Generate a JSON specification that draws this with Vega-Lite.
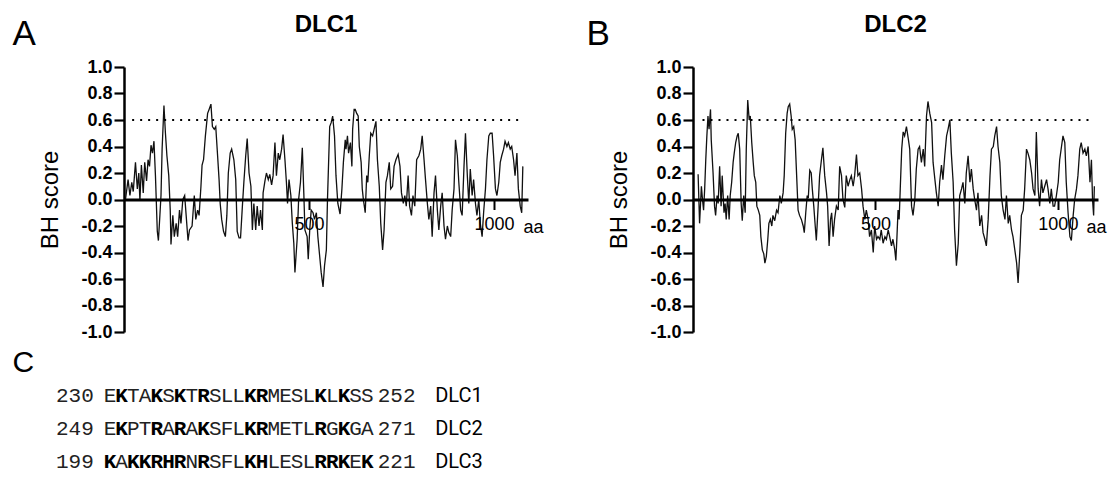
{
  "$schema": "https://vega.github.io/schema/vega-lite/v6.json",
  "background": "white",
  "padding": {"left": 12, "top": 13, "right": 5, "bottom": 5},
  "bounds": "flush",
  "columns": 2,
  "align": "each",
  "spacing": {"row": 14.5, "column": 165},
  "config": {
    "view": {"stroke": null},
    "font": "Liberation Sans",
    "axis": {"grid": false, "domainColor": "black", "tickColor": "black", "labelColor": "black", "titleColor": "black", "labelFlush": false, "labelOverlap": false}
  },
  "datasets": {
    "dlc1": [
      {"aa":4,"score":0.00},{"aa":11,"score":0.15},{"aa":16,"score":0.03},{"aa":21,"score":0.13},{"aa":25,"score":0.06},{"aa":31,"score":0.28},{"aa":36,"score":0.08},{"aa":40,"score":0.20},{"aa":43,"score":-0.01},{"aa":47,"score":0.26},{"aa":52,"score":0.05},{"aa":56,"score":0.28},{"aa":61,"score":0.14},{"aa":65,"score":0.30},{"aa":69,"score":0.25},{"aa":73,"score":0.41},{"aa":77,"score":0.35},{"aa":81,"score":0.44},{"aa":85,"score":0.18},{"aa":90,"score":-0.24},{"aa":93,"score":-0.31},{"aa":97,"score":-0.12},{"aa":100,"score":0.03},{"aa":103,"score":0.38},{"aa":108,"score":0.71},{"aa":112,"score":0.50},{"aa":116,"score":0.33},{"aa":121,"score":0.18},{"aa":125,"score":-0.08},{"aa":127,"score":-0.34},{"aa":132,"score":-0.12},{"aa":136,"score":-0.28},{"aa":141,"score":-0.18},{"aa":145,"score":-0.28},{"aa":150,"score":-0.08},{"aa":154,"score":-0.18},{"aa":159,"score":0.00},{"aa":164,"score":0.03},{"aa":168,"score":-0.12},{"aa":173,"score":-0.31},{"aa":177,"score":-0.23},{"aa":184,"score":-0.20},{"aa":190,"score":0.03},{"aa":194,"score":-0.15},{"aa":199,"score":-0.08},{"aa":203,"score":-0.12},{"aa":208,"score":0.10},{"aa":211,"score":0.26},{"aa":215,"score":0.30},{"aa":220,"score":0.48},{"aa":226,"score":0.65},{"aa":230,"score":0.68},{"aa":235,"score":0.72},{"aa":239,"score":0.55},{"aa":244,"score":0.53},{"aa":248,"score":0.55},{"aa":253,"score":0.33},{"aa":257,"score":0.15},{"aa":260,"score":-0.03},{"aa":264,"score":-0.15},{"aa":269,"score":-0.24},{"aa":274,"score":-0.28},{"aa":278,"score":-0.12},{"aa":282,"score":0.20},{"aa":287,"score":0.35},{"aa":291,"score":0.38},{"aa":297,"score":0.30},{"aa":302,"score":0.15},{"aa":306,"score":-0.24},{"aa":311,"score":-0.29},{"aa":315,"score":-0.29},{"aa":320,"score":-0.05},{"aa":324,"score":0.13},{"aa":329,"score":0.33},{"aa":333,"score":0.46},{"aa":338,"score":0.20},{"aa":343,"score":0.10},{"aa":347,"score":-0.23},{"aa":351,"score":-0.03},{"aa":356,"score":-0.23},{"aa":360,"score":-0.05},{"aa":365,"score":-0.20},{"aa":369,"score":-0.08},{"aa":374,"score":-0.23},{"aa":376,"score":0.05},{"aa":381,"score":0.14},{"aa":385,"score":0.20},{"aa":390,"score":0.15},{"aa":394,"score":0.19},{"aa":399,"score":0.11},{"aa":403,"score":0.18},{"aa":408,"score":0.43},{"aa":412,"score":0.18},{"aa":417,"score":0.35},{"aa":421,"score":0.30},{"aa":426,"score":0.38},{"aa":430,"score":0.49},{"aa":435,"score":0.30},{"aa":439,"score":0.13},{"aa":442,"score":-0.03},{"aa":446,"score":0.15},{"aa":451,"score":0.03},{"aa":455,"score":-0.18},{"aa":459,"score":-0.33},{"aa":462,"score":-0.55},{"aa":468,"score":-0.30},{"aa":472,"score":0.00},{"aa":477,"score":0.13},{"aa":482,"score":0.39},{"aa":486,"score":0.05},{"aa":489,"score":-0.23},{"aa":495,"score":-0.28},{"aa":498,"score":-0.45},{"aa":502,"score":-0.23},{"aa":506,"score":-0.08},{"aa":511,"score":-0.10},{"aa":515,"score":-0.15},{"aa":520,"score":-0.10},{"aa":524,"score":-0.28},{"aa":529,"score":-0.43},{"aa":533,"score":-0.55},{"aa":538,"score":-0.66},{"aa":542,"score":-0.50},{"aa":547,"score":-0.38},{"aa":550,"score":0.00},{"aa":556,"score":0.55},{"aa":560,"score":0.58},{"aa":564,"score":0.63},{"aa":569,"score":0.48},{"aa":573,"score":0.18},{"aa":578,"score":-0.03},{"aa":584,"score":-0.11},{"aa":589,"score":0.08},{"aa":593,"score":0.28},{"aa":598,"score":0.45},{"aa":600,"score":0.38},{"aa":604,"score":0.48},{"aa":607,"score":0.35},{"aa":612,"score":0.43},{"aa":616,"score":0.25},{"aa":618,"score":0.53},{"aa":622,"score":0.68},{"aa":625,"score":0.68},{"aa":629,"score":0.65},{"aa":633,"score":0.63},{"aa":636,"score":0.40},{"aa":641,"score":0.28},{"aa":644,"score":0.08},{"aa":647,"score":0.00},{"aa":652,"score":-0.10},{"aa":656,"score":0.18},{"aa":659,"score":0.13},{"aa":663,"score":0.33},{"aa":667,"score":0.50},{"aa":672,"score":0.48},{"aa":676,"score":0.53},{"aa":681,"score":0.59},{"aa":685,"score":0.30},{"aa":690,"score":0.10},{"aa":694,"score":-0.18},{"aa":699,"score":-0.38},{"aa":703,"score":-0.23},{"aa":708,"score":0.13},{"aa":712,"score":0.18},{"aa":717,"score":0.28},{"aa":721,"score":0.08},{"aa":726,"score":0.10},{"aa":730,"score":0.25},{"aa":735,"score":0.30},{"aa":741,"score":0.34},{"aa":746,"score":0.25},{"aa":750,"score":0.05},{"aa":755,"score":-0.03},{"aa":759,"score":0.03},{"aa":763,"score":-0.05},{"aa":768,"score":0.18},{"aa":772,"score":-0.05},{"aa":777,"score":-0.12},{"aa":781,"score":0.03},{"aa":786,"score":-0.05},{"aa":791,"score":0.30},{"aa":797,"score":0.33},{"aa":802,"score":0.38},{"aa":806,"score":0.48},{"aa":811,"score":0.30},{"aa":815,"score":0.15},{"aa":820,"score":-0.03},{"aa":824,"score":-0.15},{"aa":829,"score":-0.05},{"aa":833,"score":-0.28},{"aa":838,"score":0.05},{"aa":842,"score":0.18},{"aa":847,"score":-0.08},{"aa":851,"score":-0.23},{"aa":856,"score":-0.05},{"aa":860,"score":0.05},{"aa":865,"score":-0.20},{"aa":869,"score":-0.30},{"aa":874,"score":-0.20},{"aa":878,"score":-0.25},{"aa":883,"score":-0.28},{"aa":887,"score":-0.08},{"aa":892,"score":0.08},{"aa":896,"score":0.45},{"aa":901,"score":0.33},{"aa":905,"score":0.13},{"aa":910,"score":-0.08},{"aa":914,"score":-0.12},{"aa":919,"score":0.25},{"aa":923,"score":0.50},{"aa":928,"score":0.18},{"aa":932,"score":-0.03},{"aa":936,"score":0.23},{"aa":941,"score":0.03},{"aa":945,"score":0.15},{"aa":950,"score":-0.03},{"aa":954,"score":-0.12},{"aa":959,"score":0.00},{"aa":963,"score":-0.18},{"aa":968,"score":-0.28},{"aa":972,"score":-0.10},{"aa":977,"score":0.08},{"aa":981,"score":0.30},{"aa":986,"score":0.48},{"aa":990,"score":0.50},{"aa":995,"score":0.50},{"aa":999,"score":0.33},{"aa":1004,"score":0.08},{"aa":1008,"score":0.03},{"aa":1013,"score":0.13},{"aa":1017,"score":0.28},{"aa":1021,"score":0.33},{"aa":1026,"score":0.38},{"aa":1030,"score":0.44},{"aa":1035,"score":0.40},{"aa":1039,"score":0.43},{"aa":1044,"score":0.38},{"aa":1048,"score":0.40},{"aa":1053,"score":0.30},{"aa":1057,"score":0.18},{"aa":1062,"score":0.35},{"aa":1066,"score":0.08},{"aa":1071,"score":-0.05},{"aa":1075,"score":-0.10},{"aa":1078,"score":0.25}
    ],
    "dlc2": [
      {"aa":14,"score":0.19},{"aa":18,"score":-0.18},{"aa":23,"score":0.10},{"aa":26,"score":0.00},{"aa":29,"score":-0.08},{"aa":32,"score":0.08},{"aa":35,"score":0.30},{"aa":38,"score":0.48},{"aa":41,"score":0.63},{"aa":44,"score":0.53},{"aa":48,"score":0.68},{"aa":50,"score":0.45},{"aa":55,"score":0.20},{"aa":59,"score":-0.05},{"aa":62,"score":-0.12},{"aa":66,"score":0.03},{"aa":69,"score":-0.03},{"aa":73,"score":0.25},{"aa":77,"score":-0.05},{"aa":80,"score":0.18},{"aa":85,"score":-0.10},{"aa":88,"score":-0.03},{"aa":91,"score":-0.15},{"aa":95,"score":0.03},{"aa":99,"score":-0.15},{"aa":102,"score":0.03},{"aa":106,"score":0.13},{"aa":110,"score":0.28},{"aa":113,"score":0.35},{"aa":117,"score":0.43},{"aa":121,"score":0.48},{"aa":124,"score":0.50},{"aa":128,"score":0.38},{"aa":132,"score":-0.03},{"aa":135,"score":-0.16},{"aa":139,"score":0.03},{"aa":143,"score":-0.10},{"aa":146,"score":0.38},{"aa":150,"score":0.75},{"aa":154,"score":0.60},{"aa":157,"score":0.63},{"aa":161,"score":0.43},{"aa":165,"score":0.28},{"aa":168,"score":0.18},{"aa":172,"score":0.13},{"aa":175,"score":-0.05},{"aa":179,"score":-0.08},{"aa":183,"score":-0.12},{"aa":186,"score":-0.28},{"aa":190,"score":-0.38},{"aa":194,"score":-0.41},{"aa":197,"score":-0.48},{"aa":201,"score":-0.43},{"aa":205,"score":-0.30},{"aa":208,"score":-0.18},{"aa":212,"score":-0.15},{"aa":216,"score":-0.20},{"aa":219,"score":-0.12},{"aa":224,"score":-0.16},{"aa":229,"score":-0.08},{"aa":233,"score":-0.10},{"aa":238,"score":0.03},{"aa":242,"score":-0.03},{"aa":247,"score":0.05},{"aa":250,"score":0.18},{"aa":254,"score":0.50},{"aa":258,"score":0.65},{"aa":261,"score":0.70},{"aa":265,"score":0.72},{"aa":269,"score":0.63},{"aa":272,"score":0.53},{"aa":276,"score":0.55},{"aa":280,"score":0.45},{"aa":283,"score":0.25},{"aa":288,"score":-0.08},{"aa":292,"score":-0.12},{"aa":297,"score":-0.15},{"aa":302,"score":-0.20},{"aa":305,"score":-0.25},{"aa":309,"score":-0.10},{"aa":313,"score":0.03},{"aa":316,"score":0.01},{"aa":320,"score":0.22},{"aa":324,"score":0.20},{"aa":327,"score":0.08},{"aa":331,"score":-0.05},{"aa":335,"score":-0.20},{"aa":338,"score":-0.31},{"aa":343,"score":-0.05},{"aa":347,"score":0.18},{"aa":352,"score":0.30},{"aa":356,"score":0.39},{"aa":361,"score":0.18},{"aa":366,"score":0.05},{"aa":369,"score":-0.05},{"aa":373,"score":-0.35},{"aa":377,"score":-0.15},{"aa":380,"score":-0.10},{"aa":384,"score":-0.28},{"aa":388,"score":-0.15},{"aa":393,"score":-0.05},{"aa":398,"score":-0.08},{"aa":402,"score":0.25},{"aa":407,"score":0.18},{"aa":411,"score":0.00},{"aa":416,"score":-0.06},{"aa":420,"score":0.18},{"aa":425,"score":0.10},{"aa":430,"score":0.15},{"aa":434,"score":0.18},{"aa":439,"score":0.10},{"aa":443,"score":0.18},{"aa":448,"score":0.34},{"aa":452,"score":0.18},{"aa":457,"score":0.20},{"aa":462,"score":0.08},{"aa":466,"score":-0.05},{"aa":471,"score":-0.15},{"aa":475,"score":-0.08},{"aa":480,"score":-0.15},{"aa":484,"score":-0.28},{"aa":489,"score":-0.23},{"aa":494,"score":-0.40},{"aa":498,"score":-0.20},{"aa":503,"score":-0.30},{"aa":507,"score":-0.28},{"aa":512,"score":-0.30},{"aa":516,"score":-0.23},{"aa":521,"score":-0.33},{"aa":526,"score":-0.28},{"aa":530,"score":-0.30},{"aa":535,"score":-0.23},{"aa":539,"score":-0.28},{"aa":544,"score":-0.35},{"aa":548,"score":-0.30},{"aa":553,"score":-0.38},{"aa":556,"score":-0.46},{"aa":559,"score":-0.28},{"aa":562,"score":-0.08},{"aa":565,"score":-0.15},{"aa":568,"score":0.08},{"aa":572,"score":0.38},{"aa":576,"score":0.51},{"aa":580,"score":0.48},{"aa":585,"score":0.55},{"aa":590,"score":0.46},{"aa":594,"score":0.38},{"aa":599,"score":-0.05},{"aa":603,"score":-0.12},{"aa":608,"score":0.00},{"aa":612,"score":0.23},{"aa":617,"score":0.38},{"aa":621,"score":0.40},{"aa":626,"score":0.28},{"aa":631,"score":0.38},{"aa":635,"score":0.25},{"aa":640,"score":0.63},{"aa":644,"score":0.74},{"aa":649,"score":0.65},{"aa":654,"score":0.58},{"aa":658,"score":0.28},{"aa":663,"score":0.15},{"aa":667,"score":0.05},{"aa":672,"score":-0.05},{"aa":676,"score":0.13},{"aa":681,"score":0.26},{"aa":685,"score":0.15},{"aa":690,"score":0.33},{"aa":695,"score":0.48},{"aa":699,"score":0.53},{"aa":704,"score":0.60},{"aa":708,"score":0.35},{"aa":713,"score":0.13},{"aa":717,"score":-0.23},{"aa":722,"score":-0.50},{"aa":727,"score":-0.33},{"aa":731,"score":0.03},{"aa":736,"score":0.08},{"aa":740,"score":0.13},{"aa":745,"score":-0.03},{"aa":749,"score":0.20},{"aa":754,"score":0.33},{"aa":759,"score":0.13},{"aa":763,"score":0.23},{"aa":768,"score":0.08},{"aa":772,"score":0.00},{"aa":777,"score":-0.08},{"aa":781,"score":0.05},{"aa":786,"score":-0.20},{"aa":791,"score":-0.12},{"aa":795,"score":-0.25},{"aa":800,"score":-0.30},{"aa":804,"score":-0.35},{"aa":809,"score":-0.15},{"aa":814,"score":0.18},{"aa":818,"score":0.38},{"aa":823,"score":0.40},{"aa":827,"score":0.48},{"aa":832,"score":0.55},{"aa":836,"score":0.40},{"aa":841,"score":0.28},{"aa":845,"score":0.03},{"aa":850,"score":-0.08},{"aa":855,"score":-0.15},{"aa":859,"score":0.03},{"aa":864,"score":-0.18},{"aa":868,"score":-0.12},{"aa":873,"score":-0.23},{"aa":877,"score":-0.28},{"aa":882,"score":-0.38},{"aa":887,"score":-0.48},{"aa":891,"score":-0.63},{"aa":896,"score":-0.38},{"aa":900,"score":-0.12},{"aa":905,"score":-0.08},{"aa":909,"score":0.08},{"aa":914,"score":0.38},{"aa":918,"score":0.35},{"aa":923,"score":0.30},{"aa":928,"score":0.20},{"aa":932,"score":0.08},{"aa":937,"score":0.03},{"aa":941,"score":0.51},{"aa":946,"score":0.08},{"aa":950,"score":-0.05},{"aa":955,"score":0.15},{"aa":959,"score":0.05},{"aa":964,"score":0.10},{"aa":969,"score":0.15},{"aa":973,"score":0.08},{"aa":978,"score":-0.03},{"aa":982,"score":0.08},{"aa":987,"score":-0.05},{"aa":991,"score":-0.05},{"aa":996,"score":0.03},{"aa":1001,"score":0.13},{"aa":1005,"score":0.30},{"aa":1010,"score":0.40},{"aa":1014,"score":0.48},{"aa":1019,"score":0.43},{"aa":1023,"score":0.13},{"aa":1028,"score":-0.10},{"aa":1033,"score":-0.28},{"aa":1037,"score":-0.31},{"aa":1042,"score":-0.12},{"aa":1046,"score":0.00},{"aa":1051,"score":0.08},{"aa":1055,"score":0.18},{"aa":1060,"score":0.38},{"aa":1064,"score":0.43},{"aa":1069,"score":0.35},{"aa":1074,"score":0.38},{"aa":1078,"score":0.33},{"aa":1083,"score":0.40},{"aa":1088,"score":0.13},{"aa":1092,"score":0.30},{"aa":1095,"score":0.00},{"aa":1098,"score":-0.12},{"aa":1100,"score":0.10}
    ],
    "motif": [
      {"row":1,"col":1,"residue":"E"},{"row":1,"col":2,"residue":"K"},{"row":1,"col":3,"residue":"T"},{"row":1,"col":4,"residue":"A"},{"row":1,"col":5,"residue":"K"},{"row":1,"col":6,"residue":"S"},{"row":1,"col":7,"residue":"K"},{"row":1,"col":8,"residue":"T"},{"row":1,"col":9,"residue":"R"},{"row":1,"col":10,"residue":"S"},{"row":1,"col":11,"residue":"L"},{"row":1,"col":12,"residue":"L"},{"row":1,"col":13,"residue":"K"},{"row":1,"col":14,"residue":"R"},{"row":1,"col":15,"residue":"M"},{"row":1,"col":16,"residue":"E"},{"row":1,"col":17,"residue":"S"},{"row":1,"col":18,"residue":"L"},{"row":1,"col":19,"residue":"K"},{"row":1,"col":20,"residue":"L"},{"row":1,"col":21,"residue":"K"},{"row":1,"col":22,"residue":"S"},{"row":1,"col":23,"residue":"S"},
      {"row":2,"col":1,"residue":"E"},{"row":2,"col":2,"residue":"K"},{"row":2,"col":3,"residue":"P"},{"row":2,"col":4,"residue":"T"},{"row":2,"col":5,"residue":"R"},{"row":2,"col":6,"residue":"A"},{"row":2,"col":7,"residue":"R"},{"row":2,"col":8,"residue":"A"},{"row":2,"col":9,"residue":"K"},{"row":2,"col":10,"residue":"S"},{"row":2,"col":11,"residue":"F"},{"row":2,"col":12,"residue":"L"},{"row":2,"col":13,"residue":"K"},{"row":2,"col":14,"residue":"R"},{"row":2,"col":15,"residue":"M"},{"row":2,"col":16,"residue":"E"},{"row":2,"col":17,"residue":"T"},{"row":2,"col":18,"residue":"L"},{"row":2,"col":19,"residue":"R"},{"row":2,"col":20,"residue":"G"},{"row":2,"col":21,"residue":"K"},{"row":2,"col":22,"residue":"G"},{"row":2,"col":23,"residue":"A"},
      {"row":3,"col":1,"residue":"K"},{"row":3,"col":2,"residue":"A"},{"row":3,"col":3,"residue":"K"},{"row":3,"col":4,"residue":"K"},{"row":3,"col":5,"residue":"R"},{"row":3,"col":6,"residue":"H"},{"row":3,"col":7,"residue":"R"},{"row":3,"col":8,"residue":"N"},{"row":3,"col":9,"residue":"R"},{"row":3,"col":10,"residue":"S"},{"row":3,"col":11,"residue":"F"},{"row":3,"col":12,"residue":"L"},{"row":3,"col":13,"residue":"K"},{"row":3,"col":14,"residue":"H"},{"row":3,"col":15,"residue":"L"},{"row":3,"col":16,"residue":"E"},{"row":3,"col":17,"residue":"S"},{"row":3,"col":18,"residue":"L"},{"row":3,"col":19,"residue":"R"},{"row":3,"col":20,"residue":"R"},{"row":3,"col":21,"residue":"K"},{"row":3,"col":22,"residue":"E"},{"row":3,"col":23,"residue":"K"}
    ],
    "numbers": [
      {"row":1,"col":-2,"num":"230"},{"row":1,"col":25.5,"num":"252"},
      {"row":2,"col":-2,"num":"249"},{"row":2,"col":25.5,"num":"271"},
      {"row":3,"col":-2,"num":"199"},{"row":3,"col":25.5,"num":"221"}
    ],
    "names": [
      {"row":1,"col":28.8,"name":"DLC1"},{"row":2,"col":28.8,"name":"DLC2"},{"row":3,"col":28.8,"name":"DLC3"}
    ]
  },
  "concat": [
    {
      "width": 404,
      "height": 265,
      "layer": [
        {
          "data": {"name": "dlc1"},
          "mark": {"type": "line", "color": "#111111", "strokeWidth": 1.3},
          "encoding": {
            "x": {"field": "aa", "type": "quantitative", "scale": {"domain": [0, 1092], "nice": false, "zero": false},
              "axis": {"values": [500, 1000], "format": "d", "offset": -132.5, "zindex": 1, "title": "aa", "titleX": 399, "titleY": 33, "titleAlign": "left", "titleBaseline": "alphabetic", "titleAngle": 0, "titleFontSize": 18, "titleFontWeight": "normal", "labelFontSize": 18, "labelPadding": 6, "labelOverlap": false, "tickSize": 10, "tickWidth": 2, "domainWidth": 3}},
            "y": {"field": "score", "type": "quantitative", "scale": {"domain": [-1, 1], "nice": false, "zero": false},
              "axis": {"values": [-1, -0.8, -0.6, -0.4, -0.2, 0, 0.2, 0.4, 0.6, 0.8, 1], "tickCount": 12, "labelExpr": "datum.value < -0.001 ? '-' + format(-datum.value, '.1f') : format(abs(datum.value), '.1f')", "labelOverlap": false, "title": "BH score", "titleFontSize": 24, "titleFontWeight": "normal", "titlePadding": 18, "labelFontSize": 18, "labelFontWeight": "bold", "labelPadding": 2, "tickSize": 10, "tickWidth": 2.2, "domainWidth": 2.5}}
          }
        },
        {
          "data": {"values": [{}]},
          "mark": {"type": "rule", "strokeDash": [2, 6], "strokeWidth": 2, "color": "black"},
          "encoding": {"x": {"datum": 22}, "x2": {"datum": 1066}, "y": {"datum": 0.6}}
        },
        {
          "data": {"values": [{}]},
          "mark": {"type": "text", "text": "A", "fontSize": 35, "font": "Liberation Sans", "align": "center", "baseline": "alphabetic", "color": "black"},
          "encoding": {"x": {"datum": -270}, "y": {"datum": 1.166}}
        },
        {
          "data": {"values": [{}]},
          "mark": {"type": "text", "text": "DLC1", "fontSize": 24, "fontWeight": "bold", "font": "Liberation Sans", "align": "center", "baseline": "alphabetic", "color": "black"},
          "encoding": {"x": {"datum": 546}, "y": {"datum": 1.264}}
        }
      ]
    },
    {
      "width": 405,
      "height": 265,
      "layer": [
        {
          "data": {"name": "dlc2"},
          "mark": {"type": "line", "color": "#111111", "strokeWidth": 1.3},
          "encoding": {
            "x": {"field": "aa", "type": "quantitative", "scale": {"domain": [0, 1110], "nice": false, "zero": false},
              "axis": {"values": [500, 1000], "format": "d", "offset": -132.5, "zindex": 1, "title": "aa", "titleX": 393, "titleY": 33, "titleAlign": "left", "titleBaseline": "alphabetic", "titleAngle": 0, "titleFontSize": 18, "titleFontWeight": "normal", "labelFontSize": 18, "labelPadding": 6, "labelOverlap": false, "tickSize": 10, "tickWidth": 2, "domainWidth": 3}},
            "y": {"field": "score", "type": "quantitative", "scale": {"domain": [-1, 1], "nice": false, "zero": false},
              "axis": {"values": [-1, -0.8, -0.6, -0.4, -0.2, 0, 0.2, 0.4, 0.6, 0.8, 1], "tickCount": 12, "labelExpr": "datum.value < -0.001 ? '-' + format(-datum.value, '.1f') : format(abs(datum.value), '.1f')", "labelOverlap": false, "title": "BH score", "titleFontSize": 24, "titleFontWeight": "normal", "titlePadding": 18, "labelFontSize": 18, "labelFontWeight": "bold", "labelPadding": 2, "tickSize": 10, "tickWidth": 2.2, "domainWidth": 2.5}}
          }
        },
        {
          "data": {"values": [{}]},
          "mark": {"type": "rule", "strokeDash": [2, 6], "strokeWidth": 2, "color": "black"},
          "encoding": {"x": {"datum": 26}, "x2": {"datum": 1088}, "y": {"datum": 0.6}}
        },
        {
          "data": {"values": [{}]},
          "mark": {"type": "text", "text": "B", "fontSize": 35, "font": "Liberation Sans", "align": "center", "baseline": "alphabetic", "color": "black"},
          "encoding": {"x": {"datum": -260}, "y": {"datum": 1.166}}
        },
        {
          "data": {"values": [{}]},
          "mark": {"type": "text", "text": "DLC2", "fontSize": 24, "fontWeight": "bold", "font": "Liberation Sans", "align": "center", "baseline": "alphabetic", "color": "black"},
          "encoding": {"x": {"datum": 555}, "y": {"datum": 1.264}}
        }
      ]
    },
    {
      "width": 400,
      "height": 132,
      "layer": [
        {
          "data": {"name": "motif"},
          "transform": [{"filter": "indexof('KRH', datum.residue) < 0"}],
          "mark": {"type": "text", "font": "Liberation Mono", "fontSize": 21, "align": "center", "baseline": "middle", "color": "#222222"},
          "encoding": {
            "x": {"field": "col", "type": "quantitative", "scale": {"domain": [2.2, 36.39], "nice": false, "zero": false}, "axis": null},
            "y": {"field": "row", "type": "quantitative", "scale": {"domain": [-0.5, 3.5], "reverse": true, "nice": false, "zero": false}, "axis": null},
            "text": {"field": "residue"}
          }
        },
        {
          "data": {"name": "motif"},
          "transform": [{"filter": "indexof('KRH', datum.residue) >= 0"}],
          "mark": {"type": "text", "font": "Liberation Mono", "fontSize": 21, "fontWeight": "bold", "align": "center", "baseline": "middle", "color": "black"},
          "encoding": {
            "x": {"field": "col", "type": "quantitative"},
            "y": {"field": "row", "type": "quantitative"},
            "text": {"field": "residue"}
          }
        },
        {
          "data": {"name": "numbers"},
          "mark": {"type": "text", "font": "Liberation Mono", "fontSize": 21, "align": "center", "baseline": "middle", "color": "#222222"},
          "encoding": {
            "x": {"field": "col", "type": "quantitative"},
            "y": {"field": "row", "type": "quantitative"},
            "text": {"field": "num"}
          }
        },
        {
          "data": {"name": "names"},
          "mark": {"type": "text", "font": "Liberation Sans Narrow, Roboto", "fontSize": 20, "align": "left", "baseline": "middle", "color": "black"},
          "encoding": {
            "x": {"field": "col", "type": "quantitative"},
            "y": {"field": "row", "type": "quantitative"},
            "text": {"field": "name"}
          }
        },
        {
          "data": {"values": [{}]},
          "mark": {"type": "text", "text": "C", "fontSize": 30, "font": "Liberation Sans", "align": "center", "baseline": "middle", "color": "black"},
          "encoding": {"x": {"datum": -6.4}, "y": {"datum": 0}}
        }
      ]
    }
  ]
}
